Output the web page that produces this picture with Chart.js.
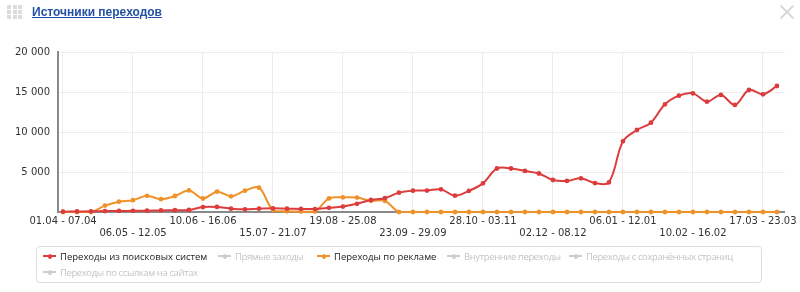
<!DOCTYPE html>
<html lang="ru">
<head>
<meta charset="utf-8">
<title>Источники переходов</title>
<script src="https://cdn.jsdelivr.net/npm/chart.js@4.4.1/dist/chart.umd.min.js"></script>
<style>
  html, body { margin: 0; padding: 0; background: #fff; }
  #wrap { position: relative; width: 800px; height: 292px; overflow: hidden; }
  #chart { position: absolute; left: 0; top: 0; }
  .grip { position: absolute; left: 7px; top: 5px; width: 15px; height: 14px; }
  .grip span { position: absolute; width: 4px; height: 4px; background: #dcdcdc; }
  .title { position: absolute; left: 32px; top: 5px; font: bold 12px "Liberation Sans", Arial, sans-serif; line-height: 15px; color: #2451a5; text-decoration: underline; }
  .close { position: absolute; left: 779px; top: 4px; width: 16px; height: 16px; }
  .close:before, .close:after { content: ""; position: absolute; left: -1px; top: 7px; width: 18px; height: 2px; background: #d6d6d6; }
  .close:before { transform: rotate(45deg); }
  .close:after { transform: rotate(-45deg); }
  #legend { position: absolute; left: 36px; top: 246px; width: 726px; height: 37px; box-sizing: border-box;
    border: 1px solid #dddddd; border-radius: 4px; font: 9.5px "Open Sans", Arial, sans-serif; }
  .item { position: absolute; display: flex; align-items: center; height: 16px; white-space: nowrap; }
  .item.off { letter-spacing: -0.4px; }
  .mark { position: relative; width: 13px; height: 2px; margin-right: 4px; }
  .mark:after { content: ""; position: absolute; left: 4.5px; top: -1.5px; width: 4px; height: 5px; border-radius: 50%; background: inherit; }
</style>
</head>
<body>
<div id="wrap">
  <canvas id="chart" width="800" height="292"></canvas>
  <div class="grip" id="grip"></div>
  <div class="title">Источники переходов</div>
  <div class="close"></div>
  <div id="legend"></div>
</div>
<script>
// weeks (x categories)
const weeks = [
  '01.04 - 07.04', '08.04 - 14.04', '15.04 - 21.04', '22.04 - 28.04', '29.04 - 05.05',
  '06.05 - 12.05', '13.05 - 19.05', '20.05 - 26.05', '27.05 - 02.06', '03.06 - 09.06',
  '10.06 - 16.06', '17.06 - 23.06', '24.06 - 30.06', '01.07 - 07.07', '08.07 - 14.07',
  '15.07 - 21.07', '22.07 - 28.07', '29.07 - 04.08', '05.08 - 11.08', '12.08 - 18.08',
  '19.08 - 25.08', '26.08 - 01.09', '02.09 - 08.09', '09.09 - 15.09', '16.09 - 22.09',
  '23.09 - 29.09', '30.09 - 06.10', '07.10 - 13.10', '14.10 - 20.10', '21.10 - 27.10',
  '28.10 - 03.11', '04.11 - 10.11', '11.11 - 17.11', '18.11 - 24.11', '25.11 - 01.12',
  '02.12 - 08.12', '09.12 - 15.12', '16.12 - 22.12', '23.12 - 29.12', '30.12 - 05.01',
  '06.01 - 12.01', '13.01 - 19.01', '20.01 - 26.01', '27.01 - 02.02', '03.02 - 09.02',
  '10.02 - 16.02', '17.02 - 23.02', '24.02 - 02.03', '03.03 - 09.03', '10.03 - 16.03',
  '17.03 - 23.03', '24.03 - 30.03'
];

// Переходы из поисковых систем
const searchVisits = [
  40, 60, 80, 110, 130, 150, 170, 200, 220, 250,
  620, 630, 420, 340, 420, 460, 420, 380, 370, 520,
  680, 1020, 1500, 1730, 2420, 2670, 2680, 2830, 2040, 2650,
  3580, 5440, 5440, 5130, 4810, 4000, 3880, 4210, 3620, 3710,
  8830, 10250, 11170, 13460, 14540, 14830, 13790, 14630, 13380, 15250,
  14710, 15750
];

// Переходы по рекламе
const adVisits = [
  0, 0, 0, 800, 1290, 1480, 2020, 1600, 2000, 2700,
  1690, 2540, 1960, 2670, 3040, 250, 80, 50, 60, 1700,
  1830, 1800, 1400, 1380, 0, 0, 0, 0, 0, 0,
  0, 0, 0, 0, 0, 0, 0, 0, 0, 0,
  0, 0, 0, 0, 0, 0, 0, 0, 0, 0,
  0, 0
];

const xTickIndexes = [0, 5, 10, 15, 20, 25, 30, 35, 40, 45, 50];
const yTickValues = [0, 5000, 10000, 15000, 20000];
const yTickLabels = ['', '5 000', '10 000', '15 000', '20 000'];

const legendNames = [
  'Переходы из поисковых систем', 'Прямые заходы', 'Переходы по рекламе',
  'Внутренние переходы', 'Переходы с сохранённых страниц', 'Переходы по ссылкам на сайтах'
];
const legendActive = [true, false, true, false, false, false];

const RED = '#dc3c3c';
const ORANGE = '#f0922a';
const legendColors = [RED, '#cccccc', ORANGE, '#cccccc', '#cccccc', '#cccccc'];

// legend item layout inside the box: [left, top]
const legendSlots = [[6, 0], [181, 0], [280, 0], [410, 0], [532, 0], [6, 16]];

// grip icon
const grip = document.getElementById('grip');
for (let r = 0; r < 3; r++) {
  for (let c = 0; c < 3; c++) {
    const s = document.createElement('span');
    s.style.left = (c * 5.5) + 'px';
    s.style.top = (r * 5) + 'px';
    grip.appendChild(s);
  }
}

// legend
const legend = document.getElementById('legend');
legendNames.forEach((name, i) => {
  const item = document.createElement('div');
  item.className = legendActive[i] ? 'item' : 'item off';
  item.style.left = legendSlots[i][0] + 'px';
  item.style.top = (legendSlots[i][1] + 1) + 'px';
  const mark = document.createElement('span');
  mark.className = 'mark';
  mark.style.background = legendColors[i];
  const txt = document.createElement('span');
  txt.textContent = name;
  txt.style.color = legendActive[i] ? '#222' : '#c4c4c4';
  item.appendChild(mark);
  item.appendChild(txt);
  legend.appendChild(item);
});

const toPoints = arr => arr.map((v, i) => ({ x: i, y: v }));

function lineSet(label, data, color) {
  return {
    label: label,
    data: toPoints(data),
    borderColor: color,
    backgroundColor: color,
    borderWidth: 2,
    pointRadius: 1.4,
    pointHoverRadius: 3,
    tension: 0.35,
    clip: 4
  };
}

new Chart(document.getElementById('chart'), {
  type: 'line',
  data: {
    datasets: [
      lineSet(legendNames[0], searchVisits, RED),
      lineSet(legendNames[2], adVisits, ORANGE)
    ]
  },
  options: {
    responsive: false,
    animation: false,
    layout: { padding: { top: 52, right: 15, left: 0, bottom: 0 } },
    plugins: {
      legend: { display: false },
      tooltip: {
        callbacks: { title: items => weeks[items[0].parsed.x] }
      }
    },
    scales: {
      x: {
        type: 'linear',
        min: -5 / 14,
        max: 51 + 8 / 14,
        afterBuildTicks: s => { s.ticks = xTickIndexes.map(v => ({ value: v })); },
        afterFit: s => { s.height = 80; },
        grid: { color: '#ececec', drawTicks: false },
        border: { color: '#8a8a8a', width: 2 },
        ticks: {
          autoSkip: false,
          maxRotation: 0,
          padding: 3,
          color: '#333',
          font: { family: 'DejaVu Sans', size: 10 },
          callback: (v, i) => (i % 2 ? ['', weeks[v]] : [weeks[v], ''])
        }
      },
      y: {
        min: 0,
        max: 20000,
        afterBuildTicks: s => { s.ticks = yTickValues.map(v => ({ value: v })); },
        afterFit: s => { s.width = 58; },
        grid: { color: '#ececec', drawTicks: false },
        border: { color: '#8a8a8a', width: 2 },
        ticks: {
          padding: 8,
          color: '#333',
          font: { family: 'DejaVu Sans', size: 10 },
          callback: (v, i) => yTickLabels[i]
        }
      }
    }
  }
});
</script>
</body>
</html>
